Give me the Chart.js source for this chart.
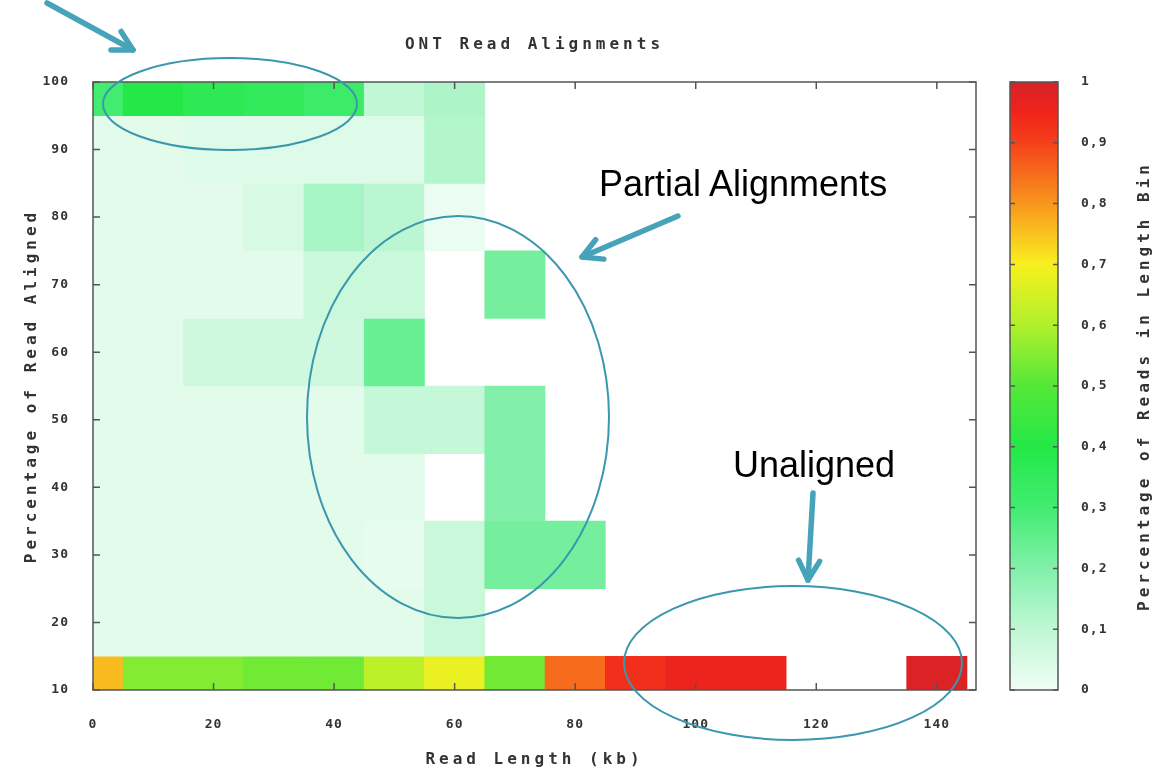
<!DOCTYPE html>
<html>
<head>
<meta charset="utf-8">
<title>ONT Read Alignments</title>
<script src="https://cdn.jsdelivr.net/npm/chart.js@4.4.1/dist/chart.umd.min.js"></script>
<style>
html,body{margin:0;padding:0;background:#fff;}
#wrap{position:relative;width:1157px;height:776px;overflow:hidden;background:#fff;}
#main{position:absolute;left:0;top:0;}
#cbar{position:absolute;left:1000px;top:0;}
#marks{position:absolute;left:0;top:0;pointer-events:none;}
.note{position:absolute;font-family:"Liberation Sans",Arial,Helvetica,sans-serif;font-size:36px;line-height:1;color:#000;white-space:nowrap;}
</style>
</head>
<body>
<div id="wrap">
  <canvas id="main" width="1157" height="776"></canvas>
  <canvas id="cbar" width="157" height="776"></canvas>
  <svg id="marks" width="1157" height="776" xmlns="http://www.w3.org/2000/svg"></svg>
  <div class="note" style="left:599px;top:166px;">Partial Alignments</div>
  <div class="note" style="left:733px;top:447px;">Unaligned</div>
</div>
<script>
// ---------------- data ----------------
const lengthBins = [0, 10, 20, 30, 40, 50, 60, 70, 80, 90, 100, 110, 120, 130, 140]; // kb, bin centres
const alignedBins = [100, 90, 80, 70, 60, 50, 40, 30, 20, 10];                       // % aligned, bin centres
const lengthTicks = [0, 20, 40, 60, 80, 100, 120, 140];
const row100 = [0.30, 0.40, 0.37, 0.35, 0.32, 0.10, 0.13, 0, 0, 0, 0, 0, 0, 0, 0];
const row90  = [0.03, 0.03, 0.04, 0.04, 0.04, 0.04, 0.12, 0, 0, 0, 0, 0, 0, 0, 0];
const row80  = [0.03, 0.03, 0.03, 0.05, 0.14, 0.11, 0.01, 0, 0, 0, 0, 0, 0, 0, 0];
const row70  = [0.03, 0.03, 0.03, 0.03, 0.08, 0.08, 0, 0.22, 0, 0, 0, 0, 0, 0, 0];
const row60  = [0.03, 0.03, 0.07, 0.07, 0.07, 0.24, 0, 0, 0, 0, 0, 0, 0, 0, 0];
const row50  = [0.03, 0.03, 0.03, 0.03, 0.03, 0.09, 0.09, 0.20, 0, 0, 0, 0, 0, 0, 0];
const row40  = [0.03, 0.03, 0.03, 0.03, 0.03, 0.03, 0, 0.20, 0, 0, 0, 0, 0, 0, 0];
const row30  = [0.03, 0.03, 0.03, 0.03, 0.03, 0.02, 0.08, 0.22, 0.22, 0, 0, 0, 0, 0, 0];
const row20  = [0.03, 0.03, 0.03, 0.03, 0.03, 0.03, 0.08, 0, 0, 0, 0, 0, 0, 0, 0];
const row10  = [0.76, 0.55, 0.55, 0.53, 0.53, 0.62, 0.68, 0.53, 0.85, 0.93, 0.96, 0.96, 0, 0, 0.99];
const rowValues = [row100, row90, row80, row70, row60, row50, row40, row30, row20, row10];

const chartTitle = 'ONT Read Alignments';
const xTitle = 'Read Length (kb)';
const yTitle = 'Percentage of Read Aligned';
const cbTitle = 'Percentage of Reads in Length Bin';

// colour map (value -> rgb)
const paletteStops = [
  [0.00, [240, 253, 245]],
  [0.10, [192, 247, 213]],
  [0.20, [130, 240, 170]],
  [0.30, [66, 236, 112]],
  [0.40, [36, 232, 72]],
  [0.50, [84, 232, 56]],
  [0.60, [176, 240, 44]],
  [0.70, [248, 240, 30]],
  [0.80, [248, 150, 30]],
  [0.90, [245, 64, 26]],
  [0.95, [240, 36, 26]],
  [1.00, [214, 34, 40]]
];

// ---------------- helpers ----------------
function colorFor(v) {
  v = Math.max(0, Math.min(1, v));
  for (let i = 1; i < paletteStops.length; i++) {
    const [v1, c1] = paletteStops[i];
    const [v0, c0] = paletteStops[i - 1];
    if (v <= v1) {
      const t = (v - v0) / (v1 - v0);
      const c = c0.map((a, k) => Math.round(a + (c1[k] - a) * t));
      return 'rgb(' + c.join(',') + ')';
    }
  }
  return 'rgb(' + paletteStops[paletteStops.length - 1][1].join(',') + ')';
}

const monoFont = '"DejaVu Sans Mono", "Liberation Mono", monospace';
const textColor = '#333';

class SpacedLinearScale extends Chart.LinearScale {
  drawLabels(area) {
    const c = this.ctx; const prev = c.letterSpacing;
    c.letterSpacing = (this.options.ticks.spacing || 0) + 'px';
    super.drawLabels(area);
    c.letterSpacing = prev;
  }
  drawTitle() {
    const c = this.ctx; const prev = c.letterSpacing;
    c.letterSpacing = (this.options.title.spacing || 0) + 'px';
    super.drawTitle();
    c.letterSpacing = prev;
  }
}
SpacedLinearScale.id = 'spacedLinear';
SpacedLinearScale.defaults = Chart.LinearScale.defaults;
Chart.register(SpacedLinearScale);

// ---------------- heatmap ----------------
const BIN_HALF = 5;
const datasets = alignedBins.map((pct, r) => ({
  label: pct + '%',
  data: lengthBins
    .map((len, i) => ({x: len, y: [pct - BIN_HALF, pct + BIN_HALF], v: rowValues[r][i]}))
    .filter(d => d.v > 0),
  backgroundColor: c => colorFor(c.raw ? c.raw.v : 0),
  borderWidth: 0,
  grouped: false,
  barPercentage: 1,
  categoryPercentage: 1,
  clip: 0
}));

const framePlugin = {
  id: 'frame',
  afterDatasetsDraw(chart) {
    const {ctx, chartArea: a, scales: {x, y}} = chart;
    ctx.save();
    ctx.strokeStyle = '#555';
    ctx.lineWidth = 1.5;
    ctx.strokeRect(a.left, a.top, a.right - a.left, a.bottom - a.top);
    ctx.beginPath();
    x.ticks.forEach(t => {
      const px = x.getPixelForValue(t.value);
      ctx.moveTo(px, a.bottom); ctx.lineTo(px, a.bottom - 7);
      ctx.moveTo(px, a.top); ctx.lineTo(px, a.top + 7);
    });
    y.ticks.forEach(t => {
      const py = y.getPixelForValue(t.value);
      ctx.moveTo(a.left, py); ctx.lineTo(a.left + 7, py);
      ctx.moveTo(a.right, py); ctx.lineTo(a.right - 7, py);
    });
    ctx.stroke();
    ctx.restore();
  }
};

new Chart(document.getElementById('main'), {
  type: 'bar',
  data: {datasets},
  options: {
    responsive: false,
    animation: false,
    devicePixelRatio: 1,
    layout: {padding: {left: 0, right: 181, top: 0, bottom: 0}},
    plugins: {legend: {display: false}, tooltip: {enabled: false}, title: {display: false}},
    scales: {
      x: {
        type: 'spacedLinear', position: 'bottom', min: 0, max: 146.5, offset: false,
        grid: {display: false, drawTicks: false}, border: {display: false},
        ticks: {padding: 27, color: textColor, spacing: 1, autoSkip: false,
                font: {family: monoFont, size: 13, weight: 'bold'}},
        afterBuildTicks: s => { s.ticks = lengthTicks.map(v => ({value: v})); },
        title: {display: true, text: xTitle, color: textColor, spacing: 4,
                font: {family: monoFont, size: 16, weight: 'bold'}, padding: {top: 0, bottom: 6.4}},
        afterFit: s => { s.height = 86; }
      },
      xTop: {
        type: 'spacedLinear', position: 'top', min: 0, max: 146.5, offset: false,
        grid: {display: false, drawTicks: false}, border: {display: false},
        ticks: {display: false},
        title: {display: true, text: chartTitle, color: textColor, spacing: 4,
                font: {family: monoFont, size: 16, weight: 'bold'}, padding: {top: 35.4, bottom: 0}},
        afterFit: s => { s.height = 82; }
      },
      y: {
        type: 'spacedLinear', position: 'left', min: 10, max: 100,
        grid: {display: false, drawTicks: false}, border: {display: false},
        ticks: {stepSize: 10, padding: 24, color: textColor, spacing: 1,
                font: {family: monoFont, size: 13, weight: 'bold'}},
        title: {display: true, text: yTitle, color: textColor, spacing: 4,
                font: {family: monoFont, size: 16, weight: 'bold'}, padding: {top: 22.4, bottom: 0}},
        afterFit: s => { s.width = 93; }
      }
    }
  },
  plugins: [framePlugin]
});

// ---------------- colour bar ----------------
const cbPlugin = {
  id: 'cbarPaint',
  beforeDatasetsDraw(chart) {
    const {ctx, chartArea: a, scales: {y}} = chart;
    ctx.save();
    const g = ctx.createLinearGradient(0, y.getPixelForValue(0), 0, y.getPixelForValue(1));
    paletteStops.forEach(([v, c]) => g.addColorStop(v, 'rgb(' + c.join(',') + ')'));
    ctx.fillStyle = g;
    ctx.fillRect(a.left, a.top, a.right - a.left, a.bottom - a.top);
    ctx.strokeStyle = '#555';
    ctx.lineWidth = 1.5;
    ctx.strokeRect(a.left, a.top, a.right - a.left, a.bottom - a.top);
    ctx.beginPath();
    y.ticks.forEach(t => {
      const py = y.getPixelForValue(t.value);
      ctx.moveTo(a.left, py); ctx.lineTo(a.left + 5, py);
      ctx.moveTo(a.right, py); ctx.lineTo(a.right - 5, py);
    });
    ctx.stroke();
    // rotated axis title (reads bottom to top)
    ctx.fillStyle = textColor;
    ctx.font = 'bold 16px ' + monoFont;
    ctx.letterSpacing = '4px';
    ctx.textAlign = 'center';
    ctx.textBaseline = 'middle';
    ctx.translate(145, (a.top + a.bottom) / 2);
    ctx.rotate(-Math.PI / 2);
    ctx.fillText(cbTitle, 0, 0);
    ctx.restore();
  }
};

new Chart(document.getElementById('cbar'), {
  type: 'bar',
  data: {datasets: []},
  options: {
    responsive: false,
    animation: false,
    devicePixelRatio: 1,
    layout: {padding: {left: 10, right: 0, top: 82, bottom: 86}},
    plugins: {legend: {display: false}, tooltip: {enabled: false}},
    scales: {
      x: {type: 'linear', display: false, min: 0, max: 1},
      y: {
        type: 'spacedLinear', position: 'right', min: 0, max: 1,
        grid: {display: false, drawTicks: false}, border: {display: false},
        ticks: {stepSize: 0.1, padding: 23, color: textColor, spacing: 1,
                font: {family: monoFont, size: 13, weight: 'bold'},
                callback: v => (v === 0 ? '0' : v === 1 ? '1' : v.toFixed(1).replace('.', ','))},
        afterFit: s => { s.width = 99; }
      }
    }
  },
  plugins: [cbPlugin]
});

// ---------------- annotations (ellipses + arrows) ----------------
const svg = document.getElementById('marks');
const NS = 'http://www.w3.org/2000/svg';
function el(name, attrs) {
  const e = document.createElementNS(NS, name);
  for (const k in attrs) e.setAttribute(k, attrs[k]);
  svg.appendChild(e);
  return e;
}
function ellipse(cx, cy, rx, ry) {
  el('ellipse', {cx, cy, rx, ry, fill: 'none', stroke: '#3a97ae', 'stroke-width': 2});
}
function arrow(x1, y1, x2, y2) {
  const ang = Math.atan2(y1 - y2, x1 - x2);
  const L = 22, s = 0.5;
  const ax = x2 + L * Math.cos(ang + s), ay = y2 + L * Math.sin(ang + s);
  const bx = x2 + L * Math.cos(ang - s), by = y2 + L * Math.sin(ang - s);
  const style = {fill: 'none', stroke: '#46a3ba', 'stroke-width': 5.5, 'stroke-linecap': 'round', 'stroke-linejoin': 'round'};
  el('line', Object.assign({x1, y1, x2, y2}, style));
  el('polyline', Object.assign({points: ax + ',' + ay + ' ' + x2 + ',' + y2 + ' ' + bx + ',' + by}, style));
}
ellipse(230, 104, 127, 46);
ellipse(458, 417, 151, 201);
ellipse(793, 663, 169, 77);
arrow(47, 3, 133, 50);
arrow(678, 216, 582, 257);
arrow(813, 493, 808, 580);
</script>
</body>
</html>
